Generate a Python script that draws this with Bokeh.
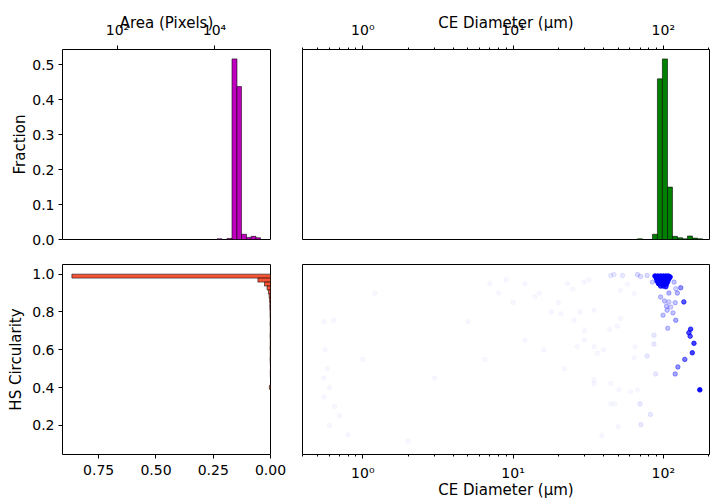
import numpy as np
from bokeh.plotting import figure
from bokeh.layouts import column, row
from bokeh.models import (Range1d, FixedTicker, CustomJSTickFormatter, ColumnDataSource,
                          PrintfTickFormatter)
from bokeh.embed import file_html
from bokeh.resources import INLINE

# ---------------- data ----------------
# Area histogram (pixels), log bins
area_edges = [11270, 14290, 18110, 22960, 29100, 36060, 45710, 57150, 71780, 88720]
area_frac = [0.002, 0.0, 0.003, 0.517, 0.438, 0.015, 0.006, 0.009, 0.005]

# CE diameter histogram (um), log bins
ce_edges = [67.3, 72.6, 78.3, 84.7, 91.4, 98.6, 106.7, 115.1, 124.2, 134.3, 144.9, 156.3, 169.0, 182.4]
ce_frac = [0.002, 0.0, 0.0, 0.015, 0.46, 0.517, 0.15, 0.009, 0.005, 0.002, 0.01, 0.004, 0.002]

# HS circularity histogram (horizontal)
circ_edges = [1.0, 0.979, 0.958, 0.937, 0.916, 0.895, 0.874, 0.853, 0.832, 0.811, 0.79,
              0.769, 0.748, 0.727, 0.706, 0.685, 0.664, 0.643, 0.622, 0.601, 0.58,
              0.559, 0.538, 0.517, 0.496, 0.475, 0.454, 0.433, 0.412, 0.391, 0.37]
circ_frac = [0.867, 0.055, 0.026, 0.015, 0.009, 0.006, 0.004, 0.003, 0.003, 0.002,
             0.002, 0.001, 0.002, 0.001, 0.001, 0.002, 0.001, 0.001, 0.002, 0.001,
             0.001, 0.002, 0.001, 0.0, 0.001, 0.001, 0.0, 0.0, 0.005, 0.0]

# Scatter: CE diameter (um), HS circularity, number of overlapping particles
pt_ce = [88, 92, 96, 100, 104, 108, 111,
         90, 94, 98, 102, 106, 109,
         91, 95, 99, 103, 107,
         93, 97, 101, 105,
         96, 100, 104,
         130.6, 137, 124, 109, 96, 102, 109, 120, 105, 112, 106, 116, 99.6, 121, 107,
         152, 148, 151, 160, 156, 139, 125, 120, 175,
         86.7, 86.7, 89, 78, 65, 64, 70, 82, 71, 50, 39, 44.7, 47.5, 50.7, 60.7, 67.3,
         44.7, 34.6, 34.6, 52, 49.4, 44, 57.7, 44.7, 47, 53.5, 67.3, 70.5, 78, 52, 64,
         84.6, 96, 104, 118, 121, 34.6, 20.8, 25.5, 29.7, 26.8, 23, 29.7, 34.6, 36.3,
         0.55, 0.56, 0.58, 0.55, 0.6, 0.55, 0.65, 0.7, 0.6, 0.64, 0.8, 1.0, 1.2, 2.0,
         7, 8, 10, 12, 15, 18, 20, 25, 30, 12, 16, 22, 28, 9, 40, 3, 5, 14, 6.5, 32]
pt_circ = [0.99, 0.99, 0.99, 0.99, 0.99, 0.99, 0.985,
           0.977, 0.977, 0.977, 0.977, 0.977, 0.975,
           0.963, 0.963, 0.963, 0.963, 0.96,
           0.95, 0.95, 0.95, 0.948,
           0.937, 0.937, 0.935,
           0.928, 0.853, 0.9, 0.9, 0.879, 0.858, 0.853, 0.849, 0.83, 0.826, 0.809, 0.795, 0.783, 0.756, 0.714,
           0.709, 0.69, 0.672, 0.634, 0.584, 0.549, 0.509, 0.472, 0.388,
           0.677, 0.63, 0.472, 0.567, 0.616, 0.558, 0.314, 0.258, 0.204, 0.193, 0.146, 0.314, 0.314, 0.388, 0.379, 0.388,
           0.423, 0.44, 0.42, 0.765, 0.725, 0.707, 0.946, 0.993, 0.998, 0.993, 0.998, 0.988, 0.993, 0.914, 0.897,
           0.958, 0.95, 0.932, 0.958, 0.923, 0.616, 0.79, 0.756, 0.651, 0.616, 0.95, 0.958, 0.809, 0.581,
           0.75, 0.6, 0.5, 0.45, 0.4, 0.35, 0.3, 0.25, 0.2, 0.756, 0.15, 0.55, 0.9, 0.116,
           0.95, 0.9, 0.85, 0.95, 0.9, 0.8, 0.85, 0.92, 0.7, 0.65, 0.6, 0.5, 0.8, 0.97, 0.6, 0.45, 0.75, 0.88, 0.55, 0.97]
pt_n = [200, 200, 200, 200, 200, 200, 120,
        200, 200, 200, 200, 200, 120,
        200, 200, 200, 200, 120,
        160, 160, 160, 100,
        60, 60, 40,
        18, 35, 11, 11, 9, 9, 7, 9, 9, 7, 9, 9, 9, 13, 9,
        45, 40, 36, 45, 45, 25, 18, 14, 100,
        3, 3, 3, 3, 1, 1, 3, 3, 3, 1, 1, 1, 1, 1, 1, 1,
        1, 1, 1, 1, 1, 1, 1, 3, 3, 3, 5, 5, 5, 1, 1,
        7, 11, 11, 9, 7, 1, 1, 1, 1, 1, 1, 1, 1, 1,
        1, 1, 1, 1, 1, 1, 1, 1, 1, 1, 1, 1, 1, 1,
        1, 1, 1, 1, 1, 1, 1, 1, 1, 1, 1, 1, 1, 1, 1, 1, 1, 1, 1, 1]

area_ticks = [100, 10000]
ce_ticks = [1, 10, 100]
ce_minor = [0.4, 0.5, 0.6, 0.7, 0.8, 0.9, 2, 3, 4, 5, 6, 7, 8, 9,
            20, 30, 40, 50, 60, 70, 80, 90, 200]
frac_ticks = [0.0, 0.1, 0.2, 0.3, 0.4, 0.5]
circ_ticks = [0.2, 0.4, 0.6, 0.8, 1.0]
hfrac_ticks = [0.0, 0.25, 0.5, 0.75]

# ---------------- styling helpers ----------------
FONT = "DejaVu Sans"
TICK_FS = "14px"
LAB_FS = "15px"
pow_fmt = CustomJSTickFormatter(code="""
const sup = {'-':'\u207b','0':'\u2070','1':'\u00b9','2':'\u00b2','3':'\u00b3','4':'\u2074',
             '5':'\u2075','6':'\u2076','7':'\u2077','8':'\u2078','9':'\u2079'};
const e = Math.round(Math.log10(tick));
return '10' + String(e).split('').map(c => sup[c]).join('');
""")


def style_axis(ax):
    ax.axis_line_color = None
    ax.major_tick_in = 0
    ax.major_tick_out = 4
    ax.minor_tick_in = 0
    ax.minor_tick_out = 2
    ax.major_tick_line_color = "black"
    ax.minor_tick_line_color = "black"
    ax.major_label_text_font = FONT
    ax.major_label_text_font_size = TICK_FS
    ax.major_label_text_color = "black"
    ax.axis_label_text_font = FONT
    ax.axis_label_text_font_size = LAB_FS
    ax.axis_label_text_font_style = "normal"
    ax.axis_label_text_color = "black"


def base_fig(w, h, **kw):
    p = figure(width=w, height=h, output_backend="svg", toolbar_location=None, **kw)
    p.grid.visible = False
    p.outline_line_color = "black"
    p.outline_line_width = 1
    p.background_fill_color = "white"
    p.border_fill_color = "white"
    return p


WL, WR = 286, 424
HT, HB = 256, 245

xr_area = Range1d(10 ** 0.866, 10 ** 5.155)
xr_ce = Range1d(0.397, 203)
yr_frac = Range1d(0.0, 0.544)
yr_circ = Range1d(0.046, 1.051)

# ---------------- top-left: area histogram ----------------
p1 = base_fig(WL, HT, x_axis_type="log", x_axis_location="above",
              x_range=xr_area, y_range=yr_frac,
              min_border_left=62, min_border_right=16, min_border_top=49, min_border_bottom=17)
src1 = ColumnDataSource(dict(left=area_edges[:-1], right=area_edges[1:], top=area_frac,
                             bottom=[0.0] * len(area_frac)))
p1.quad(left="left", right="right", top="top", bottom="bottom", source=src1,
        fill_color="#bf00bf", line_color="black", line_width=0.7, line_alpha=0.8)
p1.xaxis.ticker = FixedTicker(ticks=area_ticks, minor_ticks=[])
p1.xaxis.formatter = pow_fmt
p1.xaxis.axis_label = "Area (Pixels)"
p1.yaxis.ticker = FixedTicker(ticks=frac_ticks, minor_ticks=[])
p1.yaxis.formatter = PrintfTickFormatter(format="%.1f")
p1.yaxis.axis_label = "Fraction"
for ax in p1.xaxis + p1.yaxis:
    style_axis(ax)
p1.xaxis.major_label_standoff = 8
p1.xaxis.axis_label_standoff = -13
p1.yaxis.major_label_standoff = 4
p1.yaxis.axis_label_standoff = 0

# ---------------- top-right: CE diameter histogram ----------------
p2 = base_fig(WR, HT, x_axis_type="log", x_axis_location="above",
              x_range=xr_ce, y_range=yr_frac,
              min_border_left=16, min_border_right=1, min_border_top=49, min_border_bottom=17)
src2 = ColumnDataSource(dict(left=ce_edges[:-1], right=ce_edges[1:], top=ce_frac,
                             bottom=[0.0] * len(ce_frac)))
p2.quad(left="left", right="right", top="top", bottom="bottom", source=src2,
        fill_color="#008000", line_color="black", line_width=0.7, line_alpha=0.8)
p2.xaxis.ticker = FixedTicker(ticks=ce_ticks, minor_ticks=ce_minor)
p2.xaxis.formatter = pow_fmt
p2.xaxis.axis_label = "CE Diameter (\u00b5m)"
p2.yaxis.visible = False
for ax in p2.xaxis:
    style_axis(ax)
p2.xaxis.major_label_standoff = 8
p2.xaxis.axis_label_standoff = -13

# ---------------- bottom-left: circularity histogram ----------------
p3 = base_fig(WL, HB, x_range=Range1d(0.908, 0.0), y_range=yr_circ,
              min_border_left=62, min_border_right=16, min_border_top=8, min_border_bottom=47)
src3 = ColumnDataSource(dict(top=circ_edges[:-1], bottom=circ_edges[1:], right=circ_frac,
                             left=[0.0] * len(circ_frac)))
p3.quad(left="left", right="right", top="top", bottom="bottom", source=src3,
        fill_color="#f85436", line_color="black", line_width=0.7, line_alpha=0.8)
p3.xaxis.ticker = FixedTicker(ticks=hfrac_ticks, minor_ticks=[])
p3.xaxis.formatter = PrintfTickFormatter(format="%.2f")
p3.yaxis.ticker = FixedTicker(ticks=circ_ticks, minor_ticks=[])
p3.yaxis.formatter = PrintfTickFormatter(format="%.1f")
p3.yaxis.axis_label = "HS Circularity"
for ax in p3.xaxis + p3.yaxis:
    style_axis(ax)
p3.xaxis.major_label_standoff = 6
p3.yaxis.major_label_standoff = 4
p3.yaxis.axis_label_standoff = 4

# ---------------- bottom-right: scatter ----------------
p4 = base_fig(WR, HB, x_axis_type="log", x_range=xr_ce, y_range=yr_circ,
              min_border_left=16, min_border_right=1, min_border_top=8, min_border_bottom=47)
n_arr = np.array(pt_n, dtype=float)
alpha = 1.0 - (1.0 - 0.03) ** n_arr
order = np.argsort(n_arr)
src4 = ColumnDataSource(dict(x=np.array(pt_ce)[order], y=np.array(pt_circ)[order], a=alpha[order]))
p4.scatter("x", "y", source=src4, size=4.5, fill_color="#0000ff", line_color="#0000ff",
           fill_alpha="a", line_alpha="a")
p4.xaxis.ticker = FixedTicker(ticks=ce_ticks, minor_ticks=ce_minor)
p4.xaxis.formatter = pow_fmt
p4.xaxis.axis_label = "CE Diameter (\u00b5m)"
p4.yaxis.visible = False
for ax in p4.xaxis:
    style_axis(ax)
p4.xaxis.major_label_standoff = 6
p4.xaxis.axis_label_standoff = -3

layout = column(row(p1, p2), row(p3, p4))
open("out.html", "w").write(file_html(layout, INLINE))
